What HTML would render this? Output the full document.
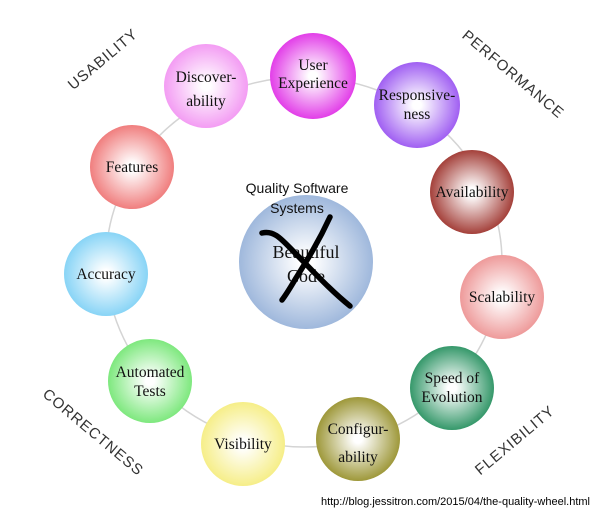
<!DOCTYPE html>
<html><head><style>body{margin:0;background:#fff}svg{display:block}</style></head><body>
<svg width="600" height="514" viewBox="0 0 600 514" xmlns="http://www.w3.org/2000/svg">
<defs>
<radialGradient id="g0"><stop offset="0.1" stop-color="#fff"/><stop offset="1" stop-color="#9fb8dc"/></radialGradient>
<radialGradient id="g1"><stop offset="0.1" stop-color="#fff"/><stop offset="1" stop-color="#e23ee8"/></radialGradient>
<radialGradient id="g2"><stop offset="0.1" stop-color="#fff"/><stop offset="1" stop-color="#a05ff2"/></radialGradient>
<radialGradient id="g3"><stop offset="0.1" stop-color="#fff"/><stop offset="1" stop-color="#a4403a"/></radialGradient>
<radialGradient id="g4"><stop offset="0.1" stop-color="#fff"/><stop offset="1" stop-color="#ee9a9a"/></radialGradient>
<radialGradient id="g5"><stop offset="0.1" stop-color="#fff"/><stop offset="1" stop-color="#35986a"/></radialGradient>
<radialGradient id="g6"><stop offset="0.1" stop-color="#fff"/><stop offset="1" stop-color="#9e983a"/></radialGradient>
<radialGradient id="g7"><stop offset="0.1" stop-color="#fff"/><stop offset="1" stop-color="#f6ee88"/></radialGradient>
<radialGradient id="g8"><stop offset="0.1" stop-color="#fff"/><stop offset="1" stop-color="#7ee87e"/></radialGradient>
<radialGradient id="g9"><stop offset="0.1" stop-color="#fff"/><stop offset="1" stop-color="#88d4f6"/></radialGradient>
<radialGradient id="g10"><stop offset="0.1" stop-color="#fff"/><stop offset="1" stop-color="#f07e7e"/></radialGradient>
<radialGradient id="g11"><stop offset="0.1" stop-color="#fff"/><stop offset="1" stop-color="#f39cf3"/></radialGradient>
</defs>
<ellipse cx="304" cy="262" rx="198" ry="185" fill="none" stroke="#d4d4d4" stroke-width="1.5"/>
<g font-family="Liberation Serif, serif" font-size="15.5" text-anchor="middle" fill="#111">
<circle cx="313" cy="76" r="43" fill="url(#g1)"/><text x="313" y="70">User</text><text x="313" y="88">Experience</text>
<circle cx="417" cy="105" r="43" fill="url(#g2)"/><text x="417" y="100">Responsive-</text><text x="417" y="119">ness</text>
<circle cx="472" cy="192" r="42" fill="url(#g3)"/><text x="472" y="197">Availability</text>
<circle cx="502" cy="297" r="42" fill="url(#g4)"/><text x="502" y="302">Scalability</text>
<circle cx="452" cy="388" r="42" fill="url(#g5)"/><text x="452" y="383">Speed of</text><text x="452" y="402">Evolution</text>
<circle cx="358" cy="439" r="42" fill="url(#g6)"/><text x="358" y="434">Configur-</text><text x="358" y="462">ability</text>
<circle cx="243" cy="444" r="42" fill="url(#g7)"/><text x="243" y="449">Visibility</text>
<circle cx="150" cy="381" r="42" fill="url(#g8)"/><text x="150" y="377">Automated</text><text x="150" y="396">Tests</text>
<circle cx="106" cy="274" r="42" fill="url(#g9)"/><text x="106" y="279">Accuracy</text>
<circle cx="132" cy="167" r="42" fill="url(#g10)"/><text x="132" y="172">Features</text>
<circle cx="206" cy="86" r="42" fill="url(#g11)"/><text x="206" y="82">Discover-</text><text x="206" y="106">ability</text>
<circle cx="306" cy="262" r="67" fill="url(#g0)"/>
<text x="306" y="258" font-size="18">Beautiful</text><text x="306" y="282" font-size="18">Code</text>
</g>
<g font-family="Liberation Sans, sans-serif" font-size="14" text-anchor="middle" fill="#111">
<text x="297" y="193">Quality Software</text><text x="297" y="213">Systems</text>
</g>
<path d="M262 233 C275 230 282 240 296 254 C312 270 330 290 350 306" fill="none" stroke="#000" stroke-width="5.5" stroke-linecap="round"/>
<path d="M330 217 C318 243 306 262 296 278 C289 290 285 296 282 300" fill="none" stroke="#000" stroke-width="5.5" stroke-linecap="round"/>
<g font-family="Liberation Sans, sans-serif" font-size="15" fill="#333" text-anchor="middle" letter-spacing="1">
<text transform="translate(106,63) rotate(-40)">USABILITY</text>
<text transform="translate(510,78) rotate(40)">PERFORMANCE</text>
<text transform="translate(90,436) rotate(40)">CORRECTNESS</text>
<text transform="translate(518,444) rotate(-40)">FLEXIBILITY</text>
</g>
<text x="590" y="505" font-family="Liberation Sans, sans-serif" font-size="11" text-anchor="end" fill="#000">http://blog.jessitron.com/2015/04/the-quality-wheel.html</text>
</svg>
</body></html>
